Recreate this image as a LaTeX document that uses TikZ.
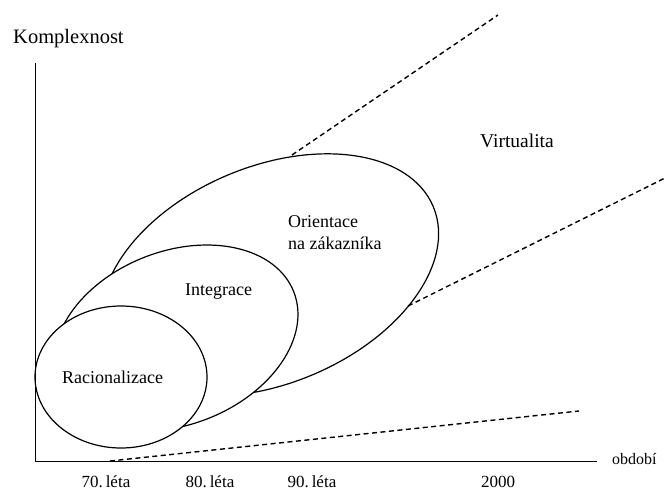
\documentclass[tikz,border=0pt]{standalone}
\usepackage{fontspec}
\setmainfont{Liberation Serif}
\usetikzlibrary{shapes.geometric}
\begin{document}
\begin{tikzpicture}[x=1pt,y=1pt,
  phase/.style={draw, ellipse, line width=1.2pt, inner sep=0pt, fill=white},
  trend/.style={dashed, dash pattern=on 5pt off 3.5pt, line width=1.4pt},
  axis/.style={line width=1.5pt},
  lbl/.style={font=\fontsize{18}{21}\selectfont, inner sep=0pt, anchor=base west},
  tick/.style={font=\fontsize{17}{20}\selectfont, inner sep=0pt, anchor=base}]
\useasboundingbox (0,0) rectangle (666,-490);
\fill[white] (0,0) rectangle (666,-490);

% phases, outermost first so the inner ones cover it
\node[phase, minimum width=354pt, minimum height=217pt, rotate=22.7] (orient) at (270,-275) {};
\node[phase, minimum width=253pt, minimum height=173.4pt, rotate=21.4] (integ) at (176,-338) {};
\node[phase, minimum width=172pt, minimum height=142pt] (racio) at (121,-377) {};

% axes
\coordinate (ytop) at (35.7,-63);
\coordinate (orig) at (35.7,-461.7);
\coordinate (xend) at (596.7,-461.7);
\draw[axis] (ytop) -- (orig) -- (xend);

% trend lines
\coordinate (t1a) at (292,-155);
\coordinate (t1b) at (498,-15);
\coordinate (t2a) at (408,-306);
\coordinate (t2b) at (665,-178);
\coordinate (t3a) at (110,-461);
\coordinate (t3b) at (579,-411);
\draw[trend] (t1a) -- (t1b);
\draw[trend] (t2a) -- (t2b);
\draw[trend] (t3a) -- (t3b);

% labels
\node[lbl, font=\fontsize{20.5}{23}\selectfont] (komp) at (13,-43) {Komplexnost};
\node[lbl, font=\fontsize{19.5}{22}\selectfont] (virt) at (480,-147) {Virtualita};
\node[lbl] (or1) at (288,-227) {Orientace};
\node[lbl] (or2) at (288,-249) {na zákazníka};
\node[lbl] (integt) at (185,-295) {Integrace};
\node[lbl] (raciot) at (62,-383) {Racionalizace};
\node[lbl, font=\fontsize{16}{19}\selectfont] (obd) at (612,-464) {období};
\node[tick] (l70) at (106,-487) {70.\,léta};
\node[tick] (l80) at (210,-487) {80.\,léta};
\node[tick] (l90) at (312,-487) {90.\,léta};
\node[tick] (l2000) at (498,-487) {2000};
\end{tikzpicture}
\end{document}
